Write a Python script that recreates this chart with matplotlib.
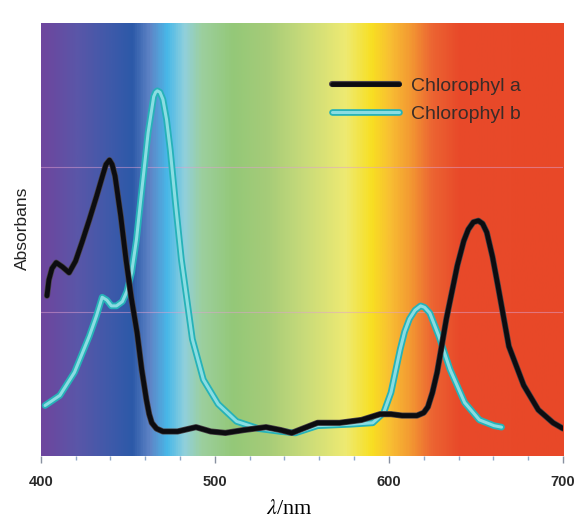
import numpy as np
import matplotlib
matplotlib.use("Agg")
import matplotlib.pyplot as plt
import matplotlib.patheffects as pe
from matplotlib.colors import LinearSegmentedColormap

# absorption spectra (wavelength in nm, absorbance in arbitrary units 0-3)
wl_a = [403.6, 404.7, 406.5, 408.9, 412.5, 416.3, 420.0, 423.7, 428.0, 432.1, 435.5, 437.5,
        439.5, 441.0, 442.7, 446.0, 449.0, 452.0, 455.4, 458.0, 460.7, 462.3, 463.8, 466.5,
        470.2, 478.6, 489.2, 497.7, 506.1, 516.7, 529.4, 537.8, 544.2, 550.5, 559.0, 571.7,
        584.3, 594.9, 601.2, 607.6, 616.1, 620.0, 622.4, 625.0, 627.7, 633.0, 639.3, 643.0,
        645.6, 648.5, 651.4, 653.8, 656.2, 659.5, 662.6, 668.9, 677.4, 685.8, 694.3, 700.0]
abs_a = [1.11, 1.22, 1.30, 1.34, 1.31, 1.27, 1.35, 1.48, 1.64, 1.80, 1.94, 2.02,
         2.05, 2.02, 1.94, 1.66, 1.36, 1.10, 0.85, 0.60, 0.39, 0.29, 0.23, 0.19,
         0.17, 0.17, 0.20, 0.17, 0.16, 0.18, 0.20, 0.18, 0.16, 0.19, 0.23, 0.23,
         0.25, 0.29, 0.29, 0.28, 0.28, 0.30, 0.34, 0.44, 0.58, 0.95, 1.32, 1.49,
         1.57, 1.62, 1.63, 1.61, 1.55, 1.38, 1.18, 0.76, 0.49, 0.32, 0.23, 0.19]

wl_b = [402.5, 411.0, 419.4, 427.9, 432.0, 435.3, 438.0, 440.6, 443.5, 446.9, 449.5, 452.2,
        455.0, 457.5, 461.7, 464.9, 466.0, 467.0, 468.5, 470.2, 472.3, 474.4, 477.5, 480.8,
        487.1, 493.4, 501.9, 512.5, 525.1, 537.8, 546.3, 559.0, 578.0, 590.7, 597.0, 601.2,
        606.5, 609.0, 611.8, 615.0, 618.2, 620.5, 623.5, 628.7, 635.1, 643.5, 652.0, 660.4,
        664.7]
abs_b = [0.35, 0.42, 0.58, 0.83, 0.97, 1.10, 1.08, 1.04, 1.04, 1.07, 1.14, 1.27,
         1.50, 1.78, 2.24, 2.49, 2.52, 2.53, 2.52, 2.47, 2.33, 2.12, 1.74, 1.36,
         0.81, 0.53, 0.36, 0.24, 0.19, 0.17, 0.16, 0.21, 0.22, 0.23, 0.30, 0.44,
         0.74, 0.86, 0.95, 1.01, 1.04, 1.03, 0.99, 0.83, 0.60, 0.37, 0.25, 0.21,
         0.20]

xticks = [400, 500, 600, 700]

# visible spectrum background
spec_pos = [400, 420, 440, 452, 462, 472, 482, 492, 510, 530, 550, 575, 590, 600, 612, 625, 640, 700]
spec_col = ["#6e469e", "#5a56a8", "#3d5aaa", "#2c59a8", "#5f84c6", "#48b8e8", "#90d0dc", "#9ccf9e",
            "#94c878", "#a6cc78", "#c6da7a", "#eeea72", "#f8df22", "#f8c032", "#f39a32", "#ec6432",
            "#e84a2a", "#e84828"]
cmap = LinearSegmentedColormap.from_list(
    "spec", [((p - 400) / 300, c) for p, c in zip(spec_pos, spec_col)])

fig = plt.figure(figsize=(5.79, 5.22), dpi=100)
ax = fig.add_axes([0.0703, 0.1264, 0.9021, 0.8296])

grad = np.linspace(0, 1, 600).reshape(1, -1)
ax.imshow(grad, cmap=cmap, extent=[400, 700, 0, 3], aspect="auto", zorder=0)

for g in [1, 2]:
    ax.axhline(g, color="#e0a0d0", lw=0.8, alpha=0.5, zorder=1)

ax.plot(wl_b, abs_b, color="#8adde2", lw=2.2, solid_capstyle="round", solid_joinstyle="round",
        zorder=3, label="Chlorophyl b",
        path_effects=[pe.Stroke(linewidth=4.8, foreground="#26b2b8"), pe.Normal()])
ax.plot(wl_a, abs_a, color="#0c0c10", lw=3.4, solid_capstyle="round", solid_joinstyle="round",
        zorder=4, label="Chlorophyl a",
        path_effects=[pe.Stroke(linewidth=4.4, foreground="#4a4448"), pe.Normal()])

ax.set_xlim(400, 700)
ax.set_ylim(0, 3)
for s in ax.spines.values():
    s.set_visible(False)
ax.set_yticks([])
ax.set_xticks(xticks)
ax.set_xticks(np.arange(420, 700, 20), minor=True)
ax.tick_params(axis="x", which="major", length=5, width=1, color="#8890a0", pad=9,
               labelsize=10.5, labelcolor="#2a2a2a")
ax.tick_params(axis="x", which="minor", length=3, width=1, color="#8fa8c8")
for lbl in ax.get_xticklabels():
    lbl.set_fontweight("bold")
    lbl.set_family("Liberation Sans")

fig.text(0.5, 0.023, r"$\lambda$/nm", ha="center", va="center", fontsize=16,
         family="Liberation Serif", math_fontfamily="stix")
fig.text(0.038, 0.563, "Absorbans", rotation=90, ha="center", va="center",
         fontsize=12.5, family="Liberation Sans", color="#222222")

h, l = ax.get_legend_handles_labels()
leg = ax.legend(h[::-1], l[::-1], loc="upper left", bbox_to_anchor=(0.525, 0.915),
                frameon=False, handlelength=3.4, handletextpad=0.65,
                labelspacing=0.55, prop={"family": "Liberation Sans", "size": 14})
for t in leg.get_texts():
    t.set_color("#3a2c28")

fig.savefig("out.png", dpi=100)
